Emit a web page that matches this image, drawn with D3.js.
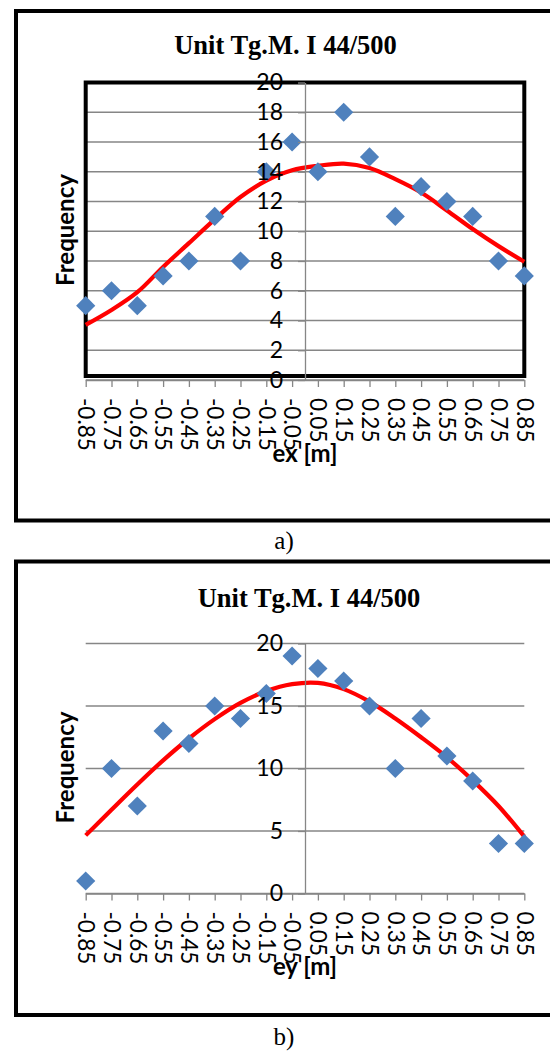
<!DOCTYPE html>
<html>
<head>
<meta charset="utf-8">
<script src="https://cdn.jsdelivr.net/npm/d3@7"></script>
<style>
  html, body { margin: 0; padding: 0; background: #ffffff; }
  svg { display: block; }
</style>
</head>
<body>
<svg id="chart" width="550" height="1052"></svg>
<script>
// ---------- data ----------
const xValues = [-0.85, -0.75, -0.65, -0.55, -0.45, -0.35, -0.25, -0.15, -0.05,
                 0.05, 0.15, 0.25, 0.35, 0.45, 0.55, 0.65, 0.75, 0.85];
const xTickLabels = ["-0.85", "-0.75", "-0.65", "-0.55", "-0.45", "-0.35", "-0.25", "-0.15", "-0.05",
                     "0.05", "0.15", "0.25", "0.35", "0.45", "0.55", "0.65", "0.75", "0.85"];
const freqA = [5, 6, 5, 7, 8, 11, 8, 14, 16, 14, 18, 15, 11, 13, 12, 11, 8, 7];
const fitA  = [3.7, 4.7, 5.9, 7.6, 9.2, 10.8, 12.3, 13.4, 14.1, 14.4, 14.55, 14.25, 13.5, 12.6, 11.4, 10.15, 9.0, 7.95];
const freqB = [1, 10, 7, 13, 12, 15, 14, 16, 19, 18, 17, 15, 10, 14, 11, 9, 4, 4];
const fitB  = [4.65, 6.7, 8.72, 10.65, 12.4, 13.95, 15.25, 16.2, 16.75, 16.85, 16.35, 15.35, 14.0, 12.5, 10.9, 9.05, 7.0, 4.55];
const yTicksA = [0, 2, 4, 6, 8, 10, 12, 14, 16, 18, 20];
const yTicksB = [0, 5, 10, 15, 20];
const titleText = "Unit Tg.M. I 44/500";
const yAxisTitle = "Frequency";
const xAxisTitleA = "ex [m]";
const xAxisTitleB = "ey [m]";
const captionA = "a)";
const captionB = "b)";

// ---------- layout ----------
const GRID = "#868686";
const BLUE = "#4F81BD";
const RED = "#FF0000";
const LABEL_FONT = "Lato, 'Open Sans', sans-serif";
const SERIF = "'Liberation Serif', 'Times New Roman', serif";

const svg = d3.select("#chart");

function drawChart(cfg) {
  const g = svg.append("g");
  // outer frame
  g.append("rect")
    .attr("x", 16).attr("y", cfg.frameTop)
    .attr("width", 600).attr("height", cfg.frameBottom - cfg.frameTop)
    .attr("fill", "none").attr("stroke", "#000").attr("stroke-width", 4);

  const x = d3.scaleLinear().domain([-0.85, 0.85]).range([85.7, 524.3]);
  const y = d3.scaleLinear().domain([0, 20]).range([cfg.y0, cfg.y20]);

  // gridlines
  g.append("g").selectAll("line").data(cfg.yTicks).join("line")
    .attr("x1", x(-0.85)).attr("x2", x(0.85))
    .attr("y1", d => y(d)).attr("y2", d => y(d))
    .attr("stroke", GRID).attr("stroke-width", 1.3);

  // x axis
  const xAxis = d3.axisBottom(x).tickValues(xValues)
    .tickFormat((d, i) => xTickLabels[i]).tickSize(7).tickSizeOuter(0);
  const xg = g.append("g").attr("transform", `translate(0,${y(0)})`).call(xAxis);
  xg.select(".domain").attr("stroke", GRID).attr("stroke-width", 1.3);
  xg.selectAll(".tick line").attr("stroke", GRID).attr("stroke-width", 1.3);
  xg.selectAll(".tick text")
    .attr("fill", "#000")
    .style("font-family", LABEL_FONT).style("font-size", "22.5px")
    .attr("text-anchor", "start")
    .attr("transform", "rotate(90)")
    .attr("x", 18).attr("y", 0).attr("dy", "0.36em");

  // y axis
  const yAxis = d3.axisLeft(y).tickValues(cfg.yTicks).tickSize(7).tickSizeOuter(0).tickPadding(15);
  const yg = g.append("g").attr("transform", `translate(${x(0)},0)`).call(yAxis);
  yg.select(".domain").attr("stroke", GRID).attr("stroke-width", 1.3);
  yg.selectAll(".tick line").attr("stroke", GRID).attr("stroke-width", 1.3);
  yg.selectAll(".tick text")
    .attr("fill", "#000")
    .style("font-family", LABEL_FONT).style("font-size", "23px");

  // plot-area box (chart a only)
  if (cfg.box) {
    g.append("rect")
      .attr("x", x(-0.85)).attr("y", y(20))
      .attr("width", x(0.85) - x(-0.85)).attr("height", cfg.boxBottom - y(20))
      .attr("fill", "none").attr("stroke", "#000").attr("stroke-width", 4);
  }

  // fitted curve
  const line = d3.line().x((d, i) => x(xValues[i])).y(d => y(d)).curve(d3.curveCatmullRom.alpha(0.5));
  g.append("path").datum(cfg.fit).attr("d", line)
    .attr("fill", "none").attr("stroke", RED).attr("stroke-width", 4.2)
    .attr("stroke-linecap", "butt");

  // markers (square diamonds)
  const r = 9.6;
  g.append("g").selectAll("path").data(cfg.freq).join("path")
    .attr("transform", (d, i) => `translate(${x(xValues[i])},${y(d)})`)
    .attr("d", `M0,${-r}L${r},0L0,${r}L${-r},0Z`)
    .attr("fill", BLUE);

  // bring tick labels on top
  xg.raise(); yg.raise();

  // title
  g.append("text").attr("x", cfg.titleX).attr("y", cfg.titleY)
    .attr("text-anchor", "middle")
    .style("font-family", SERIF).style("font-weight", "bold").style("font-size", "26.5px")
    .text(titleText);

  // y-axis title
  g.append("text")
    .attr("transform", `translate(74,${cfg.freqY}) rotate(-90)`)
    .attr("text-anchor", "middle")
    .style("font-family", LABEL_FONT).style("font-weight", "bold").style("font-size", "24px")
    .text(yAxisTitle);

  // x-axis title
  g.append("text").attr("x", 305).attr("y", cfg.xTitleY)
    .attr("text-anchor", "middle")
    .style("font-family", LABEL_FONT).style("font-weight", "bold").style("font-size", "24px")
    .text(cfg.xTitle);

  // caption
  g.append("text").attr("x", 284).attr("y", cfg.captionY)
    .attr("text-anchor", "middle")
    .style("font-family", SERIF).style("font-size", "25px")
    .text(cfg.caption);
}

drawChart({
  frameTop: 11, frameBottom: 520.5,
  y0: 380, y20: 82.5, yTicks: yTicksA, box: true, boxBottom: 376,
  freq: freqA, fit: fitA,
  titleX: 285.5, titleY: 53.5, freqY: 230, xTitle: xAxisTitleA, xTitleY: 462,
  caption: captionA, captionY: 549
});
drawChart({
  frameTop: 561.5, frameBottom: 1015,
  y0: 893.5, y20: 643.5, yTicks: yTicksB, box: false,
  freq: freqB, fit: fitB,
  titleX: 309, titleY: 606.5, freqY: 767.5, xTitle: xAxisTitleB, xTitleY: 975,
  caption: captionB, captionY: 1045
});
</script>
</body>
</html>
